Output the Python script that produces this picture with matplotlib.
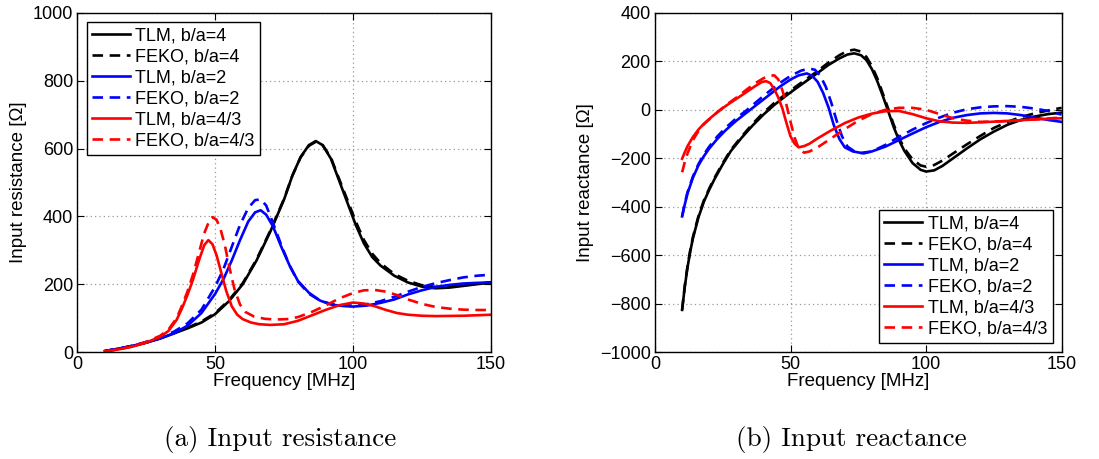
import numpy as np
import matplotlib.pyplot as plt

plt.rcParams['font.family'] = ['Liberation Sans', 'DejaVu Sans']

# Input resistance
f_r_black = [10, 15, 20, 25, 30, 35, 40, 45, 50, 55, 60, 65, 70, 75, 78, 81, 84, 86.5, 89, 92, 95, 98, 101, 104, 107, 110, 115, 120, 125, 130, 135, 140, 145, 150]
r_tlm_4 = [3, 10, 18, 28, 40, 55, 70, 87, 112, 150, 200, 270, 355, 450, 520, 575, 610, 622, 610, 570, 505, 440, 375, 320, 280, 255, 225, 205, 193, 188, 190, 195, 200, 205]
r_feko_4 = [3, 10, 18, 28, 41, 56, 72, 90, 115, 153, 203, 273, 358, 452, 520, 574, 608, 620, 610, 573, 510, 448, 385, 330, 290, 262, 230, 210, 197, 192, 193, 197, 201, 206]

f_r_blue = [10, 15, 20, 25, 30, 35, 40, 45, 50, 53, 56, 59, 62, 64.5, 66.5, 68.5, 71, 74, 77, 80, 84, 88, 92, 96, 100, 105, 110, 115, 120, 125, 130, 135, 140, 145, 150]
r_tlm_2 = [3, 10, 18, 28, 40, 55, 78, 115, 172, 215, 270, 330, 385, 412, 418, 405, 370, 310, 255, 210, 175, 152, 140, 136, 134, 137, 145, 155, 170, 182, 192, 198, 202, 204, 205]
r_feko_2 = [3, 10, 19, 30, 43, 60, 85, 125, 193, 245, 310, 375, 425, 448, 450, 432, 380, 315, 255, 208, 172, 152, 142, 138, 137, 141, 150, 163, 178, 192, 203, 212, 220, 225, 228]

f_r_red = [10, 15, 20, 25, 30, 33, 36, 38, 40, 42, 44, 46, 47.5, 49, 50.5, 52, 54, 56, 58, 60, 63, 66, 70, 75, 80, 85, 90, 95, 100, 104, 108, 112, 116, 120, 125, 130, 140, 150]
r_tlm_43 = [2, 8, 16, 28, 45, 62, 95, 130, 170, 215, 268, 315, 330, 318, 285, 240, 180, 135, 110, 97, 87, 82, 80, 82, 92, 108, 124, 138, 146, 143, 135, 124, 115, 110, 107, 106, 107, 110]

f_r_red_feko = [10, 15, 20, 25, 30, 33, 36, 38, 40, 42, 44, 46, 48, 49, 50.5, 52, 53.5, 55, 57, 59, 61, 64, 68, 72, 76, 80, 85, 90, 95, 100, 104, 108, 112, 116, 120, 125, 130, 135, 140, 145, 150]
r_feko_43 = [2, 8, 17, 30, 48, 66, 100, 138, 180, 230, 290, 350, 390, 398, 390, 360, 315, 255, 185, 140, 118, 105, 98, 96, 97, 103, 118, 137, 158, 174, 182, 183, 178, 168, 155, 142, 133, 128, 125, 124, 124]

# Input reactance
f_x_black = [10, 11, 12, 13, 14, 16, 18, 20, 22, 25, 28, 32, 36, 40, 44, 48, 52, 56, 60, 64, 68, 71, 73.5, 76, 78, 80, 82, 84, 86, 88, 90, 92, 95, 98, 100, 103, 106, 110, 115, 120, 125, 130, 135, 140, 145, 150]
x_tlm_4 = [-826, -730, -650, -585, -530, -445, -380, -330, -285, -225, -170, -115, -65, -20, 20, 55, 88, 120, 152, 185, 212, 228, 233, 225, 205, 168, 118, 58, -5, -70, -125, -170, -220, -248, -255, -250, -232, -200, -160, -122, -90, -62, -42, -28, -18, -12]
x_feko_4 = [-826, -725, -645, -580, -525, -440, -375, -325, -280, -220, -165, -110, -58, -12, 28, 63, 96, 128, 160, 195, 225, 243, 248, 240, 218, 180, 130, 68, 5, -60, -115, -160, -205, -230, -235, -228, -210, -180, -143, -108, -75, -50, -30, -15, -3, 8]

f_x_blue = [10, 11, 12, 14, 16, 18, 20, 23, 26, 30, 34, 38, 42, 46, 50, 53, 56, 58, 60, 62, 64, 66, 68, 70, 73, 76, 80, 85, 90, 95, 100, 105, 110, 115, 120, 125, 130, 135, 140, 145, 150]
x_tlm_2 = [-440, -390, -345, -280, -230, -192, -160, -120, -85, -45, -10, 25, 60, 95, 125, 142, 150, 140, 115, 70, 10, -65, -120, -155, -172, -178, -172, -152, -125, -98, -72, -50, -33, -22, -15, -13, -15, -22, -32, -42, -50]

f_x_blue_feko = [10, 11, 12, 14, 16, 18, 20, 23, 26, 30, 34, 38, 42, 46, 50, 54, 57, 59, 61, 63, 65, 67, 69, 71, 74, 77, 80, 85, 90, 95, 100, 105, 110, 115, 120, 125, 130, 135, 140, 145, 150]
x_feko_2 = [-440, -385, -340, -275, -225, -185, -152, -110, -75, -35, 0, 38, 75, 110, 140, 162, 170, 165, 140, 95, 30, -45, -110, -152, -175, -180, -172, -145, -112, -82, -55, -32, -12, 2, 10, 14, 15, 12, 5, -5, -20]

f_x_red = [10, 11, 12, 14, 16, 18, 20, 23, 26, 30, 34, 37, 39.5, 41, 42.5, 44, 45.5, 47, 48.5, 50, 51.5, 53, 55, 57, 60, 65, 70, 75, 80, 85, 90, 95, 100, 105, 110, 115, 120, 130, 140, 150]
x_tlm_43 = [-202, -175, -150, -112, -82, -58, -38, -10, 15, 45, 75, 98, 115, 118, 110, 85, 50, 5, -55, -110, -140, -155, -150, -140, -118, -85, -55, -32, -16, -6, -5, -18, -35, -48, -53, -54, -52, -46, -40, -35]

f_x_red_feko = [10, 11, 12, 14, 16, 18, 20, 23, 26, 30, 34, 37, 40, 42, 44, 45.5, 47, 48.5, 50, 51.5, 53, 55, 57, 60, 65, 70, 75, 80, 85, 90, 95, 100, 105, 110, 115, 120, 130, 140, 150]
x_feko_43 = [-258, -215, -180, -125, -88, -60, -40, -10, 18, 50, 85, 110, 130, 140, 142, 125, 80, 20, -50, -115, -160, -177, -172, -155, -118, -80, -45, -18, 0, 8, 8, 0, -18, -35, -45, -50, -47, -40, -32]

dash = (4, 2.5)
lw = 1.9

fig = plt.figure(figsize=(10.99, 4.59), dpi=100)
ax1 = fig.add_axes([0.0705, 0.233, 0.376, 0.739])
ax2 = fig.add_axes([0.596, 0.233, 0.370, 0.739])

ax1.plot(f_r_black, r_tlm_4, color='black', lw=lw, label='TLM, b/a=4')
ax1.plot(f_r_black, r_feko_4, color='black', lw=lw, dashes=dash, label='FEKO, b/a=4')
ax1.plot(f_r_blue, r_tlm_2, color='blue', lw=lw, label='TLM, b/a=2')
ax1.plot(f_r_blue, r_feko_2, color='blue', lw=lw, dashes=dash, label='FEKO, b/a=2')
ax1.plot(f_r_red, r_tlm_43, color='red', lw=lw, label='TLM, b/a=4/3')
ax1.plot(f_r_red_feko, r_feko_43, color='red', lw=lw, dashes=dash, label='FEKO, b/a=4/3')

ax2.plot(f_x_black, x_tlm_4, color='black', lw=lw, label='TLM, b/a=4')
ax2.plot(f_x_black, x_feko_4, color='black', lw=lw, dashes=dash, label='FEKO, b/a=4')
ax2.plot(f_x_blue, x_tlm_2, color='blue', lw=lw, label='TLM, b/a=2')
ax2.plot(f_x_blue_feko, x_feko_2, color='blue', lw=lw, dashes=dash, label='FEKO, b/a=2')
ax2.plot(f_x_red, x_tlm_43, color='red', lw=lw, label='TLM, b/a=4/3')
ax2.plot(f_x_red_feko, x_feko_43, color='red', lw=lw, dashes=dash, label='FEKO, b/a=4/3')

ax1.set_xlim(0, 150)
ax1.set_ylim(0, 1000)
ax1.set_yticks(range(0, 1001, 200))
ax1.set_ylabel('Input resistance [Ω]', fontsize=13.5, labelpad=4)

ax2.set_xlim(0, 150)
ax2.set_ylim(-1000, 400)
ax2.set_yticks(range(-1000, 401, 200))
ax2.set_yticklabels([str(v).replace('-', '\u2212') for v in range(-1000, 401, 200)])
ax2.set_ylabel('Input reactance [Ω]', fontsize=13.5, labelpad=4)

for ax in (ax1, ax2):
    ax.set_xticks([0, 50, 100, 150])
    ax.set_xlabel('Frequency [MHz]', fontsize=13.5, labelpad=0)
    ax.grid(True, color='#999999', linestyle=(0, (1, 2.5)), lw=0.9)
    ax.tick_params(direction='in', top=True, right=True, labelsize=13, length=5, pad=3)
    for s in ax.spines.values():
        s.set_linewidth(1.0)

leg_kw = dict(fontsize=13, frameon=True, fancybox=False, edgecolor='black',
              handlelength=2.1, labelspacing=0.22, borderpad=0.3, handletextpad=0.3,
              borderaxespad=0.5)
l1 = ax1.legend(loc='upper left', **leg_kw)
l2 = ax2.legend(loc='lower right', **leg_kw)
for l in (l1, l2):
    l.get_frame().set_linewidth(1.0)
    l.get_frame().set_alpha(1)

fig.text(0.255, 0.042, '(a) Input resistance', fontsize=19.5, family='cmr10', ha='center', va='center')
fig.text(0.775, 0.042, '(b) Input reactance', fontsize=19.5, family='cmr10', ha='center', va='center')

fig.savefig('out.png', dpi=100)
